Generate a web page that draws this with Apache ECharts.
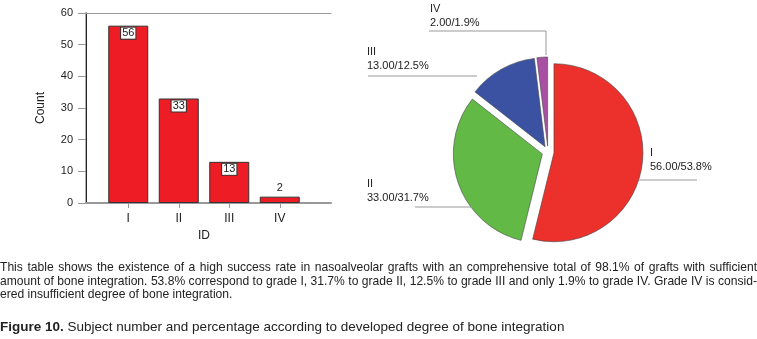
<!DOCTYPE html>
<html>
<head>
<meta charset="utf-8">
<script src="https://cdn.jsdelivr.net/npm/echarts@6/dist/echarts.min.js"></script>
<style>
  html, body { margin: 0; padding: 0; background: #fff; }
  #wrap { position: relative; width: 757px; height: 339px; }
  #chart { position: absolute; left: 0; top: 0; width: 757px; height: 339px; }
  #caption { position: absolute; left: 0; top: 261px; width: 757px;
    font-family: 'Liberation Sans', Arial, Helvetica, sans-serif; font-size: 12.1px; line-height: 13.5px; color: #222; }
  #caption .j { text-align: justify; text-align-last: justify; white-space: nowrap; }
  #figure { position: absolute; left: 0; top: 318px; white-space: nowrap;
    font-family: 'Liberation Sans', Arial, Helvetica, sans-serif; font-size: 13.5px; line-height: 18px; color: #222; }
</style>
</head>
<body>
<div id="wrap">
  <div id="chart"></div>
  <div id="caption"></div>
  <div id="figure"></div>
</div>
<script>
// grades of bone integration
const grades = ['I', 'II', 'III', 'IV'];
const counts = [56, 33, 13, 2];
const percents = [53.8, 31.7, 12.5, 1.9];
const yTicks = { min: 0, max: 60, step: 10 };

const captionLines = [
    'This table shows the existence of a high success rate in nasoalveolar grafts with an comprehensive total of 98.1% of grafts with sufficient',
    'amount of bone integration. 53.8% correspond to grade I, 31.7% to grade II, 12.5% to grade III and only 1.9% to grade IV. Grade IV is consid-',
    'ered insufficient degree of bone integration.'
];
const figureLabel = 'Figure 10.';
const figureTitle = 'Subject number and percentage according to developed degree of bone integration';

const sliceColors = ['#ec302c', '#62b946', '#3b52a3', '#a851a4'];
const font = "'Liberation Sans', Arial, Helvetica, sans-serif";
const gray = '#999';

// caption below the charts
const cap = document.getElementById('caption');
captionLines.forEach((t, i) => {
    const d = document.createElement('div');
    d.textContent = t;
    if (i < captionLines.length - 1) d.className = 'j';
    cap.appendChild(d);
});
const fig = document.getElementById('figure');
const b = document.createElement('b');
b.textContent = figureLabel;
fig.appendChild(b);
fig.appendChild(document.createTextNode(' ' + figureTitle));

const chart = echarts.init(document.getElementById('chart'));

// where each pie label sits, and its leader line
const pieLabelSpots = {
    0: { x: 650, y: 146, line: [[639, 180], [639, 180], [697, 180]] },
    1: { x: 367, y: 177, line: [[472, 207], [472, 207], [415, 207]] },
    2: { x: 367, y: 45, line: [[477, 76], [477, 76], [368, 76]] },
    3: { x: 430, y: 2, line: [[546, 55], [546, 31], [429, 31]] }
};

const pieBase = {
    type: 'pie',
    center: [548, 152],
    radius: 89,
    startAngle: 90,
    clockwise: true,
    emphasis: { disabled: true }
};

chart.setOption({
    animation: false,
    textStyle: { fontFamily: font },
    grid: [
        { left: 86, top: 13, width: 245, height: 190 },
        { left: 103, top: 13, width: 202, height: 190 }
    ],
    xAxis: [
        {
            gridIndex: 0, type: 'value', min: 0, max: 1,
            axisLine: { show: true, onZero: false, lineStyle: { color: gray, width: 2 } },
            axisTick: { show: false }, axisLabel: { show: false }, splitLine: { show: false }
        },
        {
            gridIndex: 1, type: 'category', data: grades,
            axisLine: { show: false },
            axisTick: { show: true, alignWithLabel: true, length: 5, lineStyle: { color: gray } },
            axisLabel: { fontSize: 12, color: '#222', margin: 10 },
            name: 'ID', nameLocation: 'middle', nameGap: 26,
            nameTextStyle: { fontSize: 12, color: '#222' }
        },
        {
            gridIndex: 0, type: 'value', position: 'top', min: 0, max: 1,
            axisLine: { show: true, onZero: false, lineStyle: { color: gray, width: 1 } },
            axisTick: { show: false }, axisLabel: { show: false }, splitLine: { show: false }
        }
    ],
    yAxis: [
        {
            gridIndex: 0, type: 'value', min: yTicks.min, max: yTicks.max, interval: yTicks.step,
            axisLine: { show: true, lineStyle: { color: gray, width: 1.5 } },
            axisTick: { show: true, length: 8, lineStyle: { color: gray } },
            axisLabel: { fontSize: 11, color: '#222', margin: 13 },
            splitLine: { show: false },
            name: 'Count', nameLocation: 'middle', nameRotate: 90, nameGap: 39,
            nameTextStyle: { fontSize: 12, color: '#222' }
        },
        {
            gridIndex: 1, type: 'value', min: yTicks.min, max: yTicks.max, show: false
        },
        {
            gridIndex: 0, type: 'value', position: 'right', min: yTicks.min, max: yTicks.max,
            axisLine: { show: true, lineStyle: { color: '#222', width: 1 } },
            axisTick: { show: false }, axisLabel: { show: false }, splitLine: { show: false }
        }
    ],
    series: [
        {
            type: 'bar',
            xAxisIndex: 1,
            yAxisIndex: 1,
            barWidth: 40,
            itemStyle: { color: '#ee1c25', borderColor: '#333', borderWidth: 1 },
            label: {
                show: true, position: 'insideTop', distance: 2,
                fontSize: 11, color: '#222', lineHeight: 11,
                backgroundColor: '#fff', borderColor: '#333', borderWidth: 1, padding: [0, 1]
            },
            data: counts.map((c, i) => i === counts.length - 1
                ? { value: c, label: { position: 'top', distance: 3, backgroundColor: 'transparent', borderWidth: 0 } }
                : c)
        },
        // exploded slices
        Object.assign({}, pieBase, {
            selectedMode: 'multiple',
            selectedOffset: 6,
            itemStyle: { borderColor: '#444', borderWidth: 0.6 },
            label: { show: false },
            labelLine: { show: false },
            data: grades.map((g, i) => ({
                name: g, value: counts[i], selected: true,
                itemStyle: { color: sliceColors[i] }
            }))
        }),
        // labels with leader lines
        Object.assign({}, pieBase, {
            silent: true,
            z: 3,
            itemStyle: { color: 'transparent', borderWidth: 0 },
            label: {
                show: true, position: 'outside', fontSize: 11, color: '#222', lineHeight: 14,
                overflow: 'none',
                formatter: p => p.name + '\n' + counts[p.dataIndex].toFixed(2) + '/' + percents[p.dataIndex].toFixed(1) + '%'
            },
            labelLine: { show: true, lineStyle: { color: gray, width: 1 } },
            labelLayout: p => {
                const s = pieLabelSpots[p.dataIndex];
                return { x: s.x, y: s.y, align: 'left', verticalAlign: 'top', labelLinePoints: s.line };
            },
            data: grades.map((g, i) => ({ name: g, value: counts[i] }))
        })
    ]
});
</script>
</body>
</html>
